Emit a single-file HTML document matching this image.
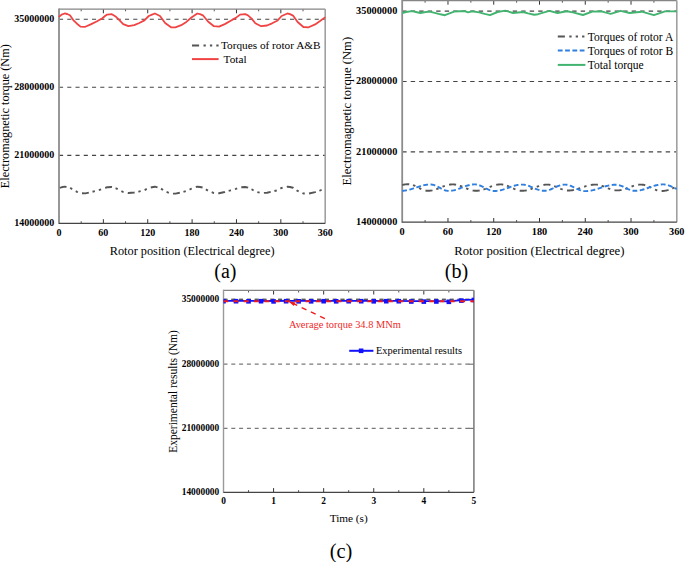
<!DOCTYPE html>
<html><head><meta charset="utf-8"><style>
html,body{margin:0;padding:0;background:#fff;width:685px;height:562px;overflow:hidden}
svg{display:block}
text{font-family:"Liberation Serif",serif}
</style></head><body>
<svg width="685" height="562" viewBox="0 0 685 562">
<line x1="59.00" y1="155.33" x2="325.20" y2="155.33" stroke="#444" stroke-width="1.1" stroke-dasharray="4.1 4.15"/>
<line x1="59.00" y1="87.26" x2="325.20" y2="87.26" stroke="#444" stroke-width="1.1" stroke-dasharray="4.1 4.15"/>
<line x1="59.00" y1="19.19" x2="325.20" y2="19.19" stroke="#444" stroke-width="1.1" stroke-dasharray="4.1 4.15"/>
<line x1="103.37" y1="223.40" x2="103.37" y2="219.20" stroke="#333" stroke-width="1" />
<line x1="103.37" y1="9.10" x2="103.37" y2="13.30" stroke="#333" stroke-width="1" />
<line x1="147.73" y1="223.40" x2="147.73" y2="219.20" stroke="#333" stroke-width="1" />
<line x1="147.73" y1="9.10" x2="147.73" y2="13.30" stroke="#333" stroke-width="1" />
<line x1="192.10" y1="223.40" x2="192.10" y2="219.20" stroke="#333" stroke-width="1" />
<line x1="192.10" y1="9.10" x2="192.10" y2="13.30" stroke="#333" stroke-width="1" />
<line x1="236.47" y1="223.40" x2="236.47" y2="219.20" stroke="#333" stroke-width="1" />
<line x1="236.47" y1="9.10" x2="236.47" y2="13.30" stroke="#333" stroke-width="1" />
<line x1="280.83" y1="223.40" x2="280.83" y2="219.20" stroke="#333" stroke-width="1" />
<line x1="280.83" y1="9.10" x2="280.83" y2="13.30" stroke="#333" stroke-width="1" />
<line x1="81.18" y1="223.40" x2="81.18" y2="221.20" stroke="#555" stroke-width="1" />
<line x1="81.18" y1="9.10" x2="81.18" y2="11.30" stroke="#555" stroke-width="1" />
<line x1="125.55" y1="223.40" x2="125.55" y2="221.20" stroke="#555" stroke-width="1" />
<line x1="125.55" y1="9.10" x2="125.55" y2="11.30" stroke="#555" stroke-width="1" />
<line x1="169.92" y1="223.40" x2="169.92" y2="221.20" stroke="#555" stroke-width="1" />
<line x1="169.92" y1="9.10" x2="169.92" y2="11.30" stroke="#555" stroke-width="1" />
<line x1="214.28" y1="223.40" x2="214.28" y2="221.20" stroke="#555" stroke-width="1" />
<line x1="214.28" y1="9.10" x2="214.28" y2="11.30" stroke="#555" stroke-width="1" />
<line x1="258.65" y1="223.40" x2="258.65" y2="221.20" stroke="#555" stroke-width="1" />
<line x1="258.65" y1="9.10" x2="258.65" y2="11.30" stroke="#555" stroke-width="1" />
<line x1="303.02" y1="223.40" x2="303.02" y2="221.20" stroke="#555" stroke-width="1" />
<line x1="303.02" y1="9.10" x2="303.02" y2="11.30" stroke="#555" stroke-width="1" />
<line x1="59.00" y1="9.10" x2="325.20" y2="9.10" stroke="#858585" stroke-width="1.3" />
<line x1="325.20" y1="9.10" x2="325.20" y2="223.40" stroke="#a0a0a0" stroke-width="1.6" />
<line x1="59.00" y1="8.50" x2="59.00" y2="224.00" stroke="#8c8c8c" stroke-width="1.8" />
<line x1="59.00" y1="223.40" x2="325.20" y2="223.40" stroke="#444" stroke-width="1.25" />
<text x="54.30" y="226.15" font-size="10.0" text-anchor="end" font-weight="bold" fill="#000" >14000000</text>
<text x="54.30" y="158.08" font-size="10.0" text-anchor="end" font-weight="bold" fill="#000" >21000000</text>
<text x="54.30" y="90.01" font-size="10.0" text-anchor="end" font-weight="bold" fill="#000" >28000000</text>
<text x="54.30" y="21.94" font-size="10.0" text-anchor="end" font-weight="bold" fill="#000" >35000000</text>
<text x="59.00" y="236.10" font-size="10.0" text-anchor="middle" font-weight="bold" fill="#000" >0</text>
<text x="103.37" y="236.10" font-size="10.0" text-anchor="middle" font-weight="bold" fill="#000" >60</text>
<text x="147.73" y="236.10" font-size="10.0" text-anchor="middle" font-weight="bold" fill="#000" >120</text>
<text x="192.10" y="236.10" font-size="10.0" text-anchor="middle" font-weight="bold" fill="#000" >180</text>
<text x="236.47" y="236.10" font-size="10.0" text-anchor="middle" font-weight="bold" fill="#000" >240</text>
<text x="280.83" y="236.10" font-size="10.0" text-anchor="middle" font-weight="bold" fill="#000" >300</text>
<text x="325.20" y="236.10" font-size="10.0" text-anchor="middle" font-weight="bold" fill="#000" >360</text>
<path d="M59.00,17.00 L59.10,16.76 L61.59,14.60 L64.62,13.47 L67.13,14.00 L69.94,15.30 L73.27,20.04 L76.97,23.70 L80.52,26.60 L85.32,26.80 L90.72,24.40 L96.64,21.50 L102.41,18.20 L104.99,16.00 L107.21,14.60 L111.87,14.20 L116.01,16.80 L119.63,20.40 L123.18,24.10 L128.43,26.20 L134.20,25.20 L139.30,23.00 L144.41,20.40 L148.77,16.00 L152.02,14.60 L154.91,13.50 L160.01,16.00 L165.11,23.00 L171.03,27.30 L175.39,27.30 L181.23,25.20 L186.33,21.90 L191.43,17.50 L197.28,13.50 L200.01,14.20 L202.90,15.30 L208.00,21.50 L213.91,26.20 L219.02,26.60 L224.78,24.10 L230.70,20.80 L235.80,17.90 L240.09,14.60 L245.27,14.20 L248.00,15.30 L251.63,18.60 L255.32,23.30 L261.09,26.20 L267.01,25.50 L272.11,23.30 L277.21,20.80 L281.65,16.00 L287.41,13.50 L290.00,14.10 L293.03,15.60 L297.62,22.00 L303.39,27.00 L308.71,27.30 L315.14,24.40 L320.39,20.80 L324.68,17.60 L325.20,17.20" fill="none" stroke="#f04444" stroke-width="1.8" stroke-linejoin="round" />
<path d="M59.00,188.45 L59.10,188.33 L61.59,187.25 L64.62,186.69 L67.13,186.95 L69.94,187.60 L73.27,189.97 L76.97,191.80 L80.52,193.25 L85.32,193.35 L90.72,192.15 L96.64,190.70 L102.41,189.05 L104.99,187.95 L107.21,187.25 L111.87,187.05 L116.01,188.35 L119.63,190.15 L123.18,192.00 L128.43,193.05 L134.20,192.55 L139.30,191.45 L144.41,190.15 L148.77,187.95 L152.02,187.25 L154.91,186.70 L160.01,187.95 L165.11,191.45 L171.03,193.60 L175.39,193.60 L181.23,192.55 L186.33,190.90 L191.43,188.70 L197.28,186.70 L200.01,187.05 L202.90,187.60 L208.00,190.70 L213.91,193.05 L219.02,193.25 L224.78,192.00 L230.70,190.35 L235.80,188.90 L240.09,187.25 L245.27,187.05 L248.00,187.60 L251.63,189.25 L255.32,191.60 L261.09,193.05 L267.01,192.70 L272.11,191.60 L277.21,190.35 L281.65,187.95 L287.41,186.70 L290.00,187.00 L293.03,187.75 L297.62,190.95 L303.39,193.45 L308.71,193.60 L315.14,192.15 L320.39,190.35 L324.68,188.75 L325.20,188.55" fill="none" stroke="#555" stroke-width="1.9" stroke-linejoin="round" stroke-dasharray="6.9 3.8 2.4 4.1 2.4 4.3" stroke-dashoffset="-1"/>
<line x1="192.00" y1="45.50" x2="218.60" y2="45.50" stroke="#555" stroke-width="2" stroke-dasharray="7.1 4.4 2.3 4.1 2.3 4.1 2.3 20"/>
<text x="221.00" y="48.90" font-size="11.25" text-anchor="start" font-weight="normal" fill="#000" >Torques of rotor A&amp;B</text>
<line x1="192.00" y1="59.10" x2="218.60" y2="59.10" stroke="#f04444" stroke-width="2" />
<text x="223.60" y="62.60" font-size="11.25" text-anchor="start" font-weight="normal" fill="#000" >Total</text>
<text x="192.15" y="254.60" font-size="12.29" text-anchor="middle" font-weight="normal" fill="#000" >Rotor position (Electrical degree)</text>
<text x="9.30" y="116.20" font-size="12.22" text-anchor="middle" font-weight="normal" fill="#000" transform="rotate(-90 9.3 116.2)">Electromagnetic torque (Nm)</text>
<text x="225.40" y="278.00" font-size="20.0" text-anchor="middle" font-weight="normal" fill="#000" >(a)</text>
<line x1="402.20" y1="151.83" x2="676.80" y2="151.83" stroke="#444" stroke-width="1.1" stroke-dasharray="4.4 4.1"/>
<line x1="402.20" y1="81.46" x2="676.80" y2="81.46" stroke="#444" stroke-width="1.1" stroke-dasharray="4.4 4.1"/>
<line x1="402.20" y1="11.09" x2="676.80" y2="11.09" stroke="#444" stroke-width="1.1" stroke-dasharray="4.4 4.1"/>
<line x1="447.97" y1="222.20" x2="447.97" y2="218.00" stroke="#333" stroke-width="1" />
<line x1="447.97" y1="0.50" x2="447.97" y2="4.70" stroke="#333" stroke-width="1" />
<line x1="493.73" y1="222.20" x2="493.73" y2="218.00" stroke="#333" stroke-width="1" />
<line x1="493.73" y1="0.50" x2="493.73" y2="4.70" stroke="#333" stroke-width="1" />
<line x1="539.50" y1="222.20" x2="539.50" y2="218.00" stroke="#333" stroke-width="1" />
<line x1="539.50" y1="0.50" x2="539.50" y2="4.70" stroke="#333" stroke-width="1" />
<line x1="585.27" y1="222.20" x2="585.27" y2="218.00" stroke="#333" stroke-width="1" />
<line x1="585.27" y1="0.50" x2="585.27" y2="4.70" stroke="#333" stroke-width="1" />
<line x1="631.03" y1="222.20" x2="631.03" y2="218.00" stroke="#333" stroke-width="1" />
<line x1="631.03" y1="0.50" x2="631.03" y2="4.70" stroke="#333" stroke-width="1" />
<line x1="425.08" y1="222.20" x2="425.08" y2="220.00" stroke="#555" stroke-width="1" />
<line x1="425.08" y1="0.50" x2="425.08" y2="2.70" stroke="#555" stroke-width="1" />
<line x1="470.85" y1="222.20" x2="470.85" y2="220.00" stroke="#555" stroke-width="1" />
<line x1="470.85" y1="0.50" x2="470.85" y2="2.70" stroke="#555" stroke-width="1" />
<line x1="516.62" y1="222.20" x2="516.62" y2="220.00" stroke="#555" stroke-width="1" />
<line x1="516.62" y1="0.50" x2="516.62" y2="2.70" stroke="#555" stroke-width="1" />
<line x1="562.38" y1="222.20" x2="562.38" y2="220.00" stroke="#555" stroke-width="1" />
<line x1="562.38" y1="0.50" x2="562.38" y2="2.70" stroke="#555" stroke-width="1" />
<line x1="608.15" y1="222.20" x2="608.15" y2="220.00" stroke="#555" stroke-width="1" />
<line x1="608.15" y1="0.50" x2="608.15" y2="2.70" stroke="#555" stroke-width="1" />
<line x1="653.92" y1="222.20" x2="653.92" y2="220.00" stroke="#555" stroke-width="1" />
<line x1="653.92" y1="0.50" x2="653.92" y2="2.70" stroke="#555" stroke-width="1" />
<line x1="402.20" y1="0.50" x2="676.80" y2="0.50" stroke="#858585" stroke-width="1.3" />
<line x1="676.80" y1="0.50" x2="676.80" y2="222.20" stroke="#a0a0a0" stroke-width="1.6" />
<line x1="402.20" y1="-0.10" x2="402.20" y2="222.80" stroke="#8c8c8c" stroke-width="1.8" />
<line x1="402.20" y1="222.20" x2="676.80" y2="222.20" stroke="#444" stroke-width="1.25" />
<text x="397.30" y="224.95" font-size="10.3" text-anchor="end" font-weight="bold" fill="#000" >14000000</text>
<text x="397.30" y="154.58" font-size="10.3" text-anchor="end" font-weight="bold" fill="#000" >21000000</text>
<text x="397.30" y="84.21" font-size="10.3" text-anchor="end" font-weight="bold" fill="#000" >28000000</text>
<text x="397.30" y="13.84" font-size="10.3" text-anchor="end" font-weight="bold" fill="#000" >35000000</text>
<text x="402.20" y="235.20" font-size="10.3" text-anchor="middle" font-weight="bold" fill="#000" >0</text>
<text x="447.97" y="235.20" font-size="10.3" text-anchor="middle" font-weight="bold" fill="#000" >60</text>
<text x="493.73" y="235.20" font-size="10.3" text-anchor="middle" font-weight="bold" fill="#000" >120</text>
<text x="539.50" y="235.20" font-size="10.3" text-anchor="middle" font-weight="bold" fill="#000" >180</text>
<text x="585.27" y="235.20" font-size="10.3" text-anchor="middle" font-weight="bold" fill="#000" >240</text>
<text x="631.03" y="235.20" font-size="10.3" text-anchor="middle" font-weight="bold" fill="#000" >300</text>
<text x="676.80" y="235.20" font-size="10.3" text-anchor="middle" font-weight="bold" fill="#000" >360</text>
<path d="M402.20,13.20 L406.01,12.00 L412.19,11.10 L415.93,12.00 L420.28,13.00 L424.32,12.20 L429.51,11.60 L435.76,13.20 L440.34,14.30 L444.92,15.20 L449.49,13.40 L454.15,11.60 L459.41,11.30 L465.36,11.30 L468.03,12.40 L472.07,11.30 L479.16,12.40 L484.58,13.90 L490.00,15.20 L497.62,12.00 L505.33,10.60 L513.03,13.00 L523.18,12.00 L528.06,13.40 L534.16,14.70 L537.97,14.20 L549.34,10.90 L557.50,13.00 L566.73,11.30 L572.83,12.40 L582.98,15.00 L592.21,11.60 L601.44,11.30 L605.10,12.45 L610.67,13.90 L620.58,10.80 L629.51,13.00 L641.71,11.70 L653.92,15.20 L664.98,11.40 L674.97,11.40 L676.80,11.50" fill="none" stroke="#42b470" stroke-width="1.9" stroke-linejoin="round" />
<path d="M402.20,185.06 L402.96,184.87 L403.73,184.69 L404.49,184.55 L405.25,184.42 L406.01,184.33 L406.78,184.26 L407.54,184.21 L408.30,184.20 L409.06,184.22 L409.83,184.30 L410.59,184.41 L411.35,184.58 L412.12,184.78 L412.88,185.03 L413.64,185.31 L414.40,185.63 L415.17,185.97 L415.93,186.33 L416.69,186.71 L417.46,187.10 L418.22,187.50 L418.98,187.90 L419.74,188.29 L420.51,188.67 L421.27,189.03 L422.03,189.37 L422.79,189.69 L423.56,189.97 L424.32,190.22 L425.08,190.42 L425.85,190.59 L426.61,190.70 L427.37,190.78 L428.13,190.80 L428.90,190.78 L429.66,190.74 L430.42,190.66 L431.19,190.56 L431.95,190.42 L432.71,190.26 L433.47,190.07 L434.24,189.86 L435.00,189.63 L435.76,189.38 L436.52,189.11 L437.29,188.82 L438.05,188.53 L438.81,188.22 L439.58,187.91 L440.34,187.60 L441.10,187.29 L441.86,186.98 L442.63,186.67 L443.39,186.38 L444.15,186.09 L444.92,185.82 L445.68,185.57 L446.44,185.34 L447.20,185.13 L447.97,184.94 L448.73,184.78 L449.49,184.64 L450.25,184.54 L451.02,184.46 L451.78,184.42 L452.54,184.40 L453.31,184.42 L454.07,184.47 L454.83,184.55 L455.59,184.66 L456.36,184.80 L457.12,184.97 L457.88,185.17 L458.65,185.40 L459.41,185.64 L460.17,185.91 L460.93,186.19 L461.70,186.49 L462.46,186.80 L463.22,187.12 L463.99,187.44 L464.75,187.76 L465.51,188.08 L466.27,188.40 L467.04,188.71 L467.80,189.01 L468.56,189.29 L469.32,189.56 L470.09,189.80 L470.85,190.03 L471.61,190.23 L472.38,190.40 L473.14,190.54 L473.90,190.65 L474.66,190.73 L475.43,190.78 L476.19,190.80 L476.95,190.78 L477.71,190.74 L478.48,190.66 L479.24,190.56 L480.00,190.42 L480.77,190.26 L481.53,190.07 L482.29,189.86 L483.05,189.63 L483.82,189.38 L484.58,189.11 L485.34,188.82 L486.11,188.53 L486.87,188.22 L487.63,187.91 L488.39,187.60 L489.16,187.29 L489.92,186.98 L490.68,186.67 L491.44,186.38 L492.21,186.09 L492.97,185.82 L493.73,185.57 L494.50,185.34 L495.26,185.13 L496.02,184.94 L496.78,184.78 L497.55,184.64 L498.31,184.54 L499.07,184.46 L499.84,184.42 L500.60,184.40 L501.36,184.42 L502.12,184.48 L502.89,184.58 L503.65,184.72 L504.41,184.89 L505.17,185.10 L505.94,185.34 L506.70,185.60 L507.46,185.90 L508.23,186.21 L508.99,186.54 L509.75,186.89 L510.51,187.24 L511.28,187.60 L512.04,187.96 L512.80,188.31 L513.57,188.66 L514.33,188.99 L515.09,189.30 L515.85,189.60 L516.62,189.86 L517.38,190.10 L518.14,190.31 L518.90,190.48 L519.67,190.62 L520.43,190.72 L521.19,190.78 L521.96,190.80 L522.72,190.79 L523.48,190.74 L524.24,190.67 L525.01,190.58 L525.77,190.46 L526.53,190.31 L527.30,190.14 L528.06,189.94 L528.82,189.73 L529.58,189.50 L530.35,189.25 L531.11,188.99 L531.87,188.71 L532.63,188.43 L533.40,188.14 L534.16,187.85 L534.92,187.55 L535.69,187.26 L536.45,186.97 L537.21,186.69 L537.97,186.41 L538.74,186.15 L539.50,185.90 L540.26,185.67 L541.03,185.46 L541.79,185.26 L542.55,185.09 L543.31,184.94 L544.08,184.82 L544.84,184.73 L545.60,184.66 L546.37,184.61 L547.13,184.60 L547.89,184.62 L548.65,184.67 L549.42,184.77 L550.18,184.89 L550.94,185.05 L551.70,185.24 L552.47,185.46 L553.23,185.71 L553.99,185.98 L554.76,186.27 L555.52,186.58 L556.28,186.89 L557.04,187.22 L557.81,187.55 L558.57,187.88 L559.33,188.21 L560.10,188.52 L560.86,188.83 L561.62,189.12 L562.38,189.39 L563.15,189.64 L563.91,189.86 L564.67,190.05 L565.43,190.21 L566.20,190.33 L566.96,190.43 L567.72,190.48 L568.49,190.50 L569.25,190.49 L570.01,190.45 L570.77,190.39 L571.54,190.31 L572.30,190.21 L573.06,190.08 L573.82,189.94 L574.59,189.77 L575.35,189.59 L576.11,189.39 L576.88,189.18 L577.64,188.95 L578.40,188.71 L579.16,188.46 L579.93,188.21 L580.69,187.95 L581.45,187.68 L582.22,187.42 L582.98,187.15 L583.74,186.89 L584.50,186.64 L585.27,186.39 L586.03,186.15 L586.79,185.92 L587.55,185.71 L588.32,185.51 L589.08,185.33 L589.84,185.16 L590.61,185.02 L591.37,184.89 L592.13,184.79 L592.89,184.71 L593.66,184.65 L594.42,184.61 L595.18,184.60 L595.95,184.62 L596.71,184.67 L597.47,184.75 L598.23,184.87 L599.00,185.02 L599.76,185.19 L600.52,185.39 L601.28,185.62 L602.05,185.87 L602.81,186.14 L603.57,186.43 L604.34,186.72 L605.10,187.03 L605.86,187.34 L606.62,187.66 L607.39,187.97 L608.15,188.28 L608.91,188.57 L609.68,188.86 L610.44,189.13 L611.20,189.38 L611.96,189.61 L612.73,189.81 L613.49,189.98 L614.25,190.13 L615.01,190.25 L615.78,190.33 L616.54,190.38 L617.30,190.40 L618.07,190.39 L618.83,190.34 L619.59,190.27 L620.35,190.16 L621.12,190.04 L621.88,189.88 L622.64,189.70 L623.41,189.50 L624.17,189.28 L624.93,189.03 L625.69,188.78 L626.46,188.51 L627.22,188.23 L627.98,187.94 L628.75,187.65 L629.51,187.35 L630.27,187.06 L631.03,186.77 L631.80,186.49 L632.56,186.22 L633.32,185.97 L634.08,185.72 L634.85,185.50 L635.61,185.30 L636.37,185.12 L637.14,184.96 L637.90,184.84 L638.66,184.73 L639.42,184.66 L640.19,184.61 L640.95,184.60 L641.71,184.62 L642.47,184.69 L643.24,184.79 L644.00,184.94 L644.76,185.13 L645.53,185.35 L646.29,185.60 L647.05,185.89 L647.81,186.20 L648.58,186.53 L649.34,186.88 L650.10,187.24 L650.87,187.61 L651.63,187.99 L652.39,188.36 L653.15,188.72 L653.92,189.07 L654.68,189.40 L655.44,189.71 L656.20,190.00 L656.97,190.25 L657.73,190.47 L658.49,190.66 L659.26,190.81 L660.02,190.91 L660.78,190.98 L661.54,191.00 L662.31,190.99 L663.07,190.94 L663.83,190.87 L664.60,190.77 L665.36,190.64 L666.12,190.48 L666.88,190.30 L667.65,190.10 L668.41,189.88 L669.17,189.64 L669.93,189.38 L670.70,189.10 L671.46,188.81 L672.22,188.52 L672.99,188.21 L673.75,187.90 L674.51,187.60 L675.27,187.29 L676.04,186.98 L676.80,186.69" fill="none" stroke="#555" stroke-width="1.9" stroke-linejoin="round" stroke-dasharray="7.1 3.9 2.5 4.2 2.5 4.4"/>
<path d="M402.20,190.86 L402.96,190.81 L403.73,190.74 L404.49,190.64 L405.25,190.53 L406.01,190.40 L406.78,190.26 L407.54,190.10 L408.30,189.92 L409.06,189.72 L409.83,189.52 L410.59,189.30 L411.35,189.07 L412.12,188.83 L412.88,188.59 L413.64,188.34 L414.40,188.09 L415.17,187.83 L415.93,187.57 L416.69,187.31 L417.46,187.06 L418.22,186.81 L418.98,186.57 L419.74,186.33 L420.51,186.10 L421.27,185.88 L422.03,185.68 L422.79,185.48 L423.56,185.30 L424.32,185.14 L425.08,185.00 L425.85,184.87 L426.61,184.76 L427.37,184.66 L428.13,184.59 L428.90,184.54 L429.66,184.51 L430.42,184.50 L431.19,184.53 L431.95,184.61 L432.71,184.74 L433.47,184.93 L434.24,185.16 L435.00,185.44 L435.76,185.75 L436.52,186.10 L437.29,186.48 L438.05,186.87 L438.81,187.28 L439.58,187.70 L440.34,188.12 L441.10,188.53 L441.86,188.92 L442.63,189.30 L443.39,189.65 L444.15,189.96 L444.92,190.24 L445.68,190.47 L446.44,190.66 L447.20,190.79 L447.97,190.87 L448.73,190.90 L449.49,190.89 L450.25,190.84 L451.02,190.78 L451.78,190.68 L452.54,190.56 L453.31,190.41 L454.07,190.24 L454.83,190.05 L455.59,189.84 L456.36,189.61 L457.12,189.36 L457.88,189.10 L458.65,188.82 L459.41,188.54 L460.17,188.25 L460.93,187.95 L461.70,187.65 L462.46,187.35 L463.22,187.05 L463.99,186.76 L464.75,186.48 L465.51,186.20 L466.27,185.94 L467.04,185.69 L467.80,185.46 L468.56,185.25 L469.32,185.06 L470.09,184.89 L470.85,184.74 L471.61,184.62 L472.38,184.52 L473.14,184.46 L473.90,184.41 L474.66,184.40 L475.43,184.42 L476.19,184.50 L476.95,184.61 L477.71,184.78 L478.48,184.98 L479.24,185.23 L480.00,185.51 L480.77,185.83 L481.53,186.17 L482.29,186.53 L483.05,186.91 L483.82,187.30 L484.58,187.70 L485.34,188.10 L486.11,188.49 L486.87,188.87 L487.63,189.23 L488.39,189.57 L489.16,189.89 L489.92,190.17 L490.68,190.42 L491.44,190.62 L492.21,190.79 L492.97,190.90 L493.73,190.98 L494.50,191.00 L495.26,190.99 L496.02,190.95 L496.78,190.89 L497.55,190.81 L498.31,190.70 L499.07,190.57 L499.84,190.42 L500.60,190.25 L501.36,190.06 L502.12,189.86 L502.89,189.64 L503.65,189.40 L504.41,189.15 L505.17,188.89 L505.94,188.63 L506.70,188.36 L507.46,188.08 L508.23,187.80 L508.99,187.52 L509.75,187.24 L510.51,186.97 L511.28,186.71 L512.04,186.45 L512.80,186.20 L513.57,185.96 L514.33,185.74 L515.09,185.54 L515.85,185.35 L516.62,185.18 L517.38,185.03 L518.14,184.90 L518.90,184.79 L519.67,184.71 L520.43,184.65 L521.19,184.61 L521.96,184.60 L522.72,184.62 L523.48,184.67 L524.24,184.76 L525.01,184.89 L525.77,185.04 L526.53,185.23 L527.30,185.45 L528.06,185.69 L528.82,185.96 L529.58,186.25 L530.35,186.55 L531.11,186.87 L531.87,187.20 L532.63,187.53 L533.40,187.87 L534.16,188.20 L534.92,188.53 L535.69,188.85 L536.45,189.15 L537.21,189.44 L537.97,189.71 L538.74,189.95 L539.50,190.17 L540.26,190.36 L541.03,190.51 L541.79,190.64 L542.55,190.73 L543.31,190.78 L544.08,190.80 L544.84,190.78 L545.60,190.72 L546.37,190.61 L547.13,190.47 L547.89,190.29 L548.65,190.07 L549.42,189.83 L550.18,189.55 L550.94,189.25 L551.70,188.93 L552.47,188.59 L553.23,188.24 L553.99,187.88 L554.76,187.52 L555.52,187.16 L556.28,186.81 L557.04,186.47 L557.81,186.15 L558.57,185.85 L559.33,185.57 L560.10,185.33 L560.86,185.11 L561.62,184.93 L562.38,184.79 L563.15,184.68 L563.91,184.62 L564.67,184.60 L565.43,184.62 L566.20,184.69 L566.96,184.80 L567.72,184.95 L568.49,185.13 L569.25,185.36 L570.01,185.62 L570.77,185.91 L571.54,186.22 L572.30,186.56 L573.06,186.92 L573.82,187.29 L574.59,187.66 L575.35,188.04 L576.11,188.41 L576.88,188.78 L577.64,189.14 L578.40,189.47 L579.16,189.79 L579.93,190.08 L580.69,190.34 L581.45,190.57 L582.22,190.75 L582.98,190.90 L583.74,191.01 L584.50,191.08 L585.27,191.10 L586.03,191.09 L586.79,191.06 L587.55,191.01 L588.32,190.94 L589.08,190.86 L589.84,190.75 L590.61,190.63 L591.37,190.49 L592.13,190.33 L592.89,190.16 L593.66,189.98 L594.42,189.78 L595.18,189.57 L595.95,189.35 L596.71,189.12 L597.47,188.89 L598.23,188.65 L599.00,188.40 L599.76,188.15 L600.52,187.90 L601.28,187.65 L602.05,187.40 L602.81,187.15 L603.57,186.91 L604.34,186.68 L605.10,186.45 L605.86,186.23 L606.62,186.02 L607.39,185.82 L608.15,185.64 L608.91,185.47 L609.68,185.31 L610.44,185.17 L611.20,185.05 L611.96,184.94 L612.73,184.86 L613.49,184.79 L614.25,184.74 L615.01,184.71 L615.78,184.70 L616.54,184.72 L617.30,184.80 L618.07,184.91 L618.83,185.08 L619.59,185.28 L620.35,185.53 L621.12,185.81 L621.88,186.12 L622.64,186.45 L623.41,186.81 L624.17,187.18 L624.93,187.56 L625.69,187.94 L626.46,188.32 L627.22,188.69 L627.98,189.05 L628.75,189.38 L629.51,189.69 L630.27,189.97 L631.03,190.22 L631.80,190.42 L632.56,190.59 L633.32,190.70 L634.08,190.78 L634.85,190.80 L635.61,190.79 L636.37,190.75 L637.14,190.70 L637.90,190.62 L638.66,190.52 L639.42,190.39 L640.19,190.25 L640.95,190.09 L641.71,189.91 L642.47,189.71 L643.24,189.50 L644.00,189.28 L644.76,189.04 L645.53,188.79 L646.29,188.54 L647.05,188.27 L647.81,188.01 L648.58,187.74 L649.34,187.46 L650.10,187.19 L650.87,186.93 L651.63,186.66 L652.39,186.41 L653.15,186.16 L653.92,185.92 L654.68,185.70 L655.44,185.49 L656.20,185.29 L656.97,185.11 L657.73,184.95 L658.49,184.81 L659.26,184.68 L660.02,184.58 L660.78,184.50 L661.54,184.45 L662.31,184.41 L663.07,184.40 L663.83,184.42 L664.60,184.48 L665.36,184.58 L666.12,184.72 L666.88,184.89 L667.65,185.10 L668.41,185.34 L669.17,185.60 L669.93,185.90 L670.70,186.21 L671.46,186.54 L672.22,186.89 L672.99,187.24 L673.75,187.60 L674.51,187.96 L675.27,188.31 L676.04,188.66 L676.80,188.99" fill="none" stroke="#2f7fe0" stroke-width="1.9" stroke-linejoin="round" stroke-dasharray="4.8 2.5"/>
<line x1="557.80" y1="36.50" x2="585.40" y2="36.50" stroke="#555" stroke-width="2" stroke-dasharray="7.1 4.4 2.3 4.1 2.3 4.1 2.3 20"/>
<text x="587.80" y="40.50" font-size="11.55" text-anchor="start" font-weight="normal" fill="#000" >Torques of rotor A</text>
<line x1="557.80" y1="50.60" x2="585.40" y2="50.60" stroke="#2f7fe0" stroke-width="2" stroke-dasharray="4.8 2.5"/>
<text x="587.80" y="54.60" font-size="11.55" text-anchor="start" font-weight="normal" fill="#000" >Torques of rotor B</text>
<line x1="557.80" y1="64.90" x2="585.40" y2="64.90" stroke="#42b470" stroke-width="2" />
<text x="587.80" y="68.90" font-size="11.55" text-anchor="start" font-weight="normal" fill="#000" >Total torque</text>
<text x="539.40" y="254.90" font-size="12.69" text-anchor="middle" font-weight="normal" fill="#000" >Rotor position (Electrical degree)</text>
<text x="350.90" y="111.20" font-size="12.63" text-anchor="middle" font-weight="normal" fill="#000" transform="rotate(-90 350.9 111.2)">Electromagnetic torque (Nm)</text>
<text x="456.50" y="278.00" font-size="20.2" text-anchor="middle" font-weight="normal" fill="#000" >(b)</text>
<line x1="223.50" y1="428.40" x2="473.90" y2="428.40" stroke="#7a7a7a" stroke-width="1.2" stroke-dasharray="4.0 3.8"/>
<line x1="223.50" y1="364.20" x2="473.90" y2="364.20" stroke="#7a7a7a" stroke-width="1.2" stroke-dasharray="4.0 3.8"/>
<line x1="223.50" y1="299.30" x2="473.90" y2="299.30" stroke="#7a7a7a" stroke-width="1.2" stroke-dasharray="4.0 3.8"/>
<line x1="273.58" y1="492.30" x2="273.58" y2="488.10" stroke="#333" stroke-width="1" />
<line x1="273.58" y1="290.30" x2="273.58" y2="294.50" stroke="#333" stroke-width="1" />
<line x1="323.66" y1="492.30" x2="323.66" y2="488.10" stroke="#333" stroke-width="1" />
<line x1="323.66" y1="290.30" x2="323.66" y2="294.50" stroke="#333" stroke-width="1" />
<line x1="373.74" y1="492.30" x2="373.74" y2="488.10" stroke="#333" stroke-width="1" />
<line x1="373.74" y1="290.30" x2="373.74" y2="294.50" stroke="#333" stroke-width="1" />
<line x1="423.82" y1="492.30" x2="423.82" y2="488.10" stroke="#333" stroke-width="1" />
<line x1="423.82" y1="290.30" x2="423.82" y2="294.50" stroke="#333" stroke-width="1" />
<line x1="248.54" y1="492.30" x2="248.54" y2="490.10" stroke="#555" stroke-width="1" />
<line x1="248.54" y1="290.30" x2="248.54" y2="292.50" stroke="#555" stroke-width="1" />
<line x1="298.62" y1="492.30" x2="298.62" y2="490.10" stroke="#555" stroke-width="1" />
<line x1="298.62" y1="290.30" x2="298.62" y2="292.50" stroke="#555" stroke-width="1" />
<line x1="348.70" y1="492.30" x2="348.70" y2="490.10" stroke="#555" stroke-width="1" />
<line x1="348.70" y1="290.30" x2="348.70" y2="292.50" stroke="#555" stroke-width="1" />
<line x1="398.78" y1="492.30" x2="398.78" y2="490.10" stroke="#555" stroke-width="1" />
<line x1="398.78" y1="290.30" x2="398.78" y2="292.50" stroke="#555" stroke-width="1" />
<line x1="448.86" y1="492.30" x2="448.86" y2="490.10" stroke="#555" stroke-width="1" />
<line x1="448.86" y1="290.30" x2="448.86" y2="292.50" stroke="#555" stroke-width="1" />
<line x1="223.50" y1="290.30" x2="473.90" y2="290.30" stroke="#858585" stroke-width="1.3" />
<line x1="473.90" y1="290.30" x2="473.90" y2="492.30" stroke="#808080" stroke-width="1.6" />
<line x1="223.50" y1="289.70" x2="223.50" y2="492.90" stroke="#9a9a9a" stroke-width="1.4" />
<line x1="223.50" y1="492.30" x2="473.90" y2="492.30" stroke="#444" stroke-width="1.25" />
<text x="219.20" y="495.05" font-size="9.4" text-anchor="end" font-weight="bold" fill="#000" >14000000</text>
<text x="219.20" y="431.15" font-size="9.4" text-anchor="end" font-weight="bold" fill="#000" >21000000</text>
<text x="219.20" y="366.95" font-size="9.4" text-anchor="end" font-weight="bold" fill="#000" >28000000</text>
<text x="219.20" y="302.05" font-size="9.4" text-anchor="end" font-weight="bold" fill="#000" >35000000</text>
<text x="223.50" y="504.30" font-size="9.4" text-anchor="middle" font-weight="bold" fill="#000" >0</text>
<text x="273.58" y="504.30" font-size="9.4" text-anchor="middle" font-weight="bold" fill="#000" >1</text>
<text x="323.66" y="504.30" font-size="9.4" text-anchor="middle" font-weight="bold" fill="#000" >2</text>
<text x="373.74" y="504.30" font-size="9.4" text-anchor="middle" font-weight="bold" fill="#000" >3</text>
<text x="423.82" y="504.30" font-size="9.4" text-anchor="middle" font-weight="bold" fill="#000" >4</text>
<text x="473.90" y="504.30" font-size="9.4" text-anchor="middle" font-weight="bold" fill="#000" >5</text>
<line x1="468.60" y1="364.20" x2="473.90" y2="364.20" stroke="#7a7a7a" stroke-width="1.2" />
<line x1="468.60" y1="428.40" x2="473.90" y2="428.40" stroke="#7a7a7a" stroke-width="1.2" />
<clipPath id="cc"><rect x="223.5" y="290.3" width="250.39999999999998" height="202.0"/></clipPath>
<g clip-path="url(#cc)">
<line x1="223.50" y1="299.30" x2="473.90" y2="299.30" stroke="#505050" stroke-width="1.1" stroke-dasharray="4.0 3.8"/>
<path d="M223.50,300.80 L236.02,300.80 L248.54,300.90 L261.06,300.80 L273.58,301.00 L286.10,300.80 L298.62,300.90 L311.14,300.90 L323.66,300.80 L336.18,300.90 L348.70,300.80 L361.22,300.80 L373.74,300.90 L386.26,300.80 L398.78,300.80 L411.30,301.10 L423.82,301.20 L436.34,301.10 L448.86,301.40 L461.38,300.20 L473.90,299.60" fill="none" stroke="#1212fa" stroke-width="1.8" stroke-linejoin="round" />
<rect x="221.20" y="298.90" width="4.6" height="4.6" fill="#1212fa"/>
<rect x="233.72" y="298.90" width="4.6" height="4.6" fill="#1212fa"/>
<rect x="246.24" y="299.00" width="4.6" height="4.6" fill="#1212fa"/>
<rect x="258.76" y="298.90" width="4.6" height="4.6" fill="#1212fa"/>
<rect x="271.28" y="299.10" width="4.6" height="4.6" fill="#1212fa"/>
<rect x="283.80" y="298.90" width="4.6" height="4.6" fill="#1212fa"/>
<rect x="296.32" y="299.00" width="4.6" height="4.6" fill="#1212fa"/>
<rect x="308.84" y="299.00" width="4.6" height="4.6" fill="#1212fa"/>
<rect x="321.36" y="298.90" width="4.6" height="4.6" fill="#1212fa"/>
<rect x="333.88" y="299.00" width="4.6" height="4.6" fill="#1212fa"/>
<rect x="346.40" y="298.90" width="4.6" height="4.6" fill="#1212fa"/>
<rect x="358.92" y="298.90" width="4.6" height="4.6" fill="#1212fa"/>
<rect x="371.44" y="299.00" width="4.6" height="4.6" fill="#1212fa"/>
<rect x="383.96" y="298.90" width="4.6" height="4.6" fill="#1212fa"/>
<rect x="396.48" y="298.90" width="4.6" height="4.6" fill="#1212fa"/>
<rect x="409.00" y="299.20" width="4.6" height="4.6" fill="#1212fa"/>
<rect x="421.52" y="299.30" width="4.6" height="4.6" fill="#1212fa"/>
<rect x="434.04" y="299.20" width="4.6" height="4.6" fill="#1212fa"/>
<rect x="446.56" y="299.50" width="4.6" height="4.6" fill="#1212fa"/>
<rect x="459.08" y="298.30" width="4.6" height="4.6" fill="#1212fa"/>
<rect x="471.60" y="297.70" width="4.6" height="4.6" fill="#1212fa"/>
<line x1="223.50" y1="301.25" x2="473.90" y2="301.25" stroke="#f01c1c" stroke-width="1.8" stroke-dasharray="5.1 5.2" stroke-dashoffset="0.4"/>
</g>
<line x1="292.45" y1="303.17" x2="324.90" y2="318.60" stroke="#f01c1c" stroke-width="1.4" stroke-dasharray="5.3 4.9"/>
<path d="M288.3,301.2 L293.76,306.0 L295.48,302.4 Z" fill="#f01c1c"/>
<text x="288.90" y="327.60" font-size="10.42" text-anchor="start" font-weight="normal" fill="#f02828" >Average torque 34.8 MNm</text>
<line x1="349.20" y1="350.80" x2="373.40" y2="350.80" stroke="#1212fa" stroke-width="2.0" />
<rect x="358.8" y="348.5" width="4.6" height="4.6" fill="#1212fa"/>
<text x="376.00" y="353.90" font-size="10.43" text-anchor="start" font-weight="normal" fill="#000" >Experimental results</text>
<text x="348.70" y="522.30" font-size="11.27" text-anchor="middle" font-weight="normal" fill="#000" >Time (s)</text>
<text x="177.10" y="391.45" font-size="11.5" text-anchor="middle" font-weight="normal" fill="#000" transform="rotate(-90 177.1 391.45)">Experimental results (Nm)</text>
<text x="341.00" y="558.00" font-size="20.4" text-anchor="middle" font-weight="normal" fill="#000" >(c)</text>
</svg>
</body></html>
